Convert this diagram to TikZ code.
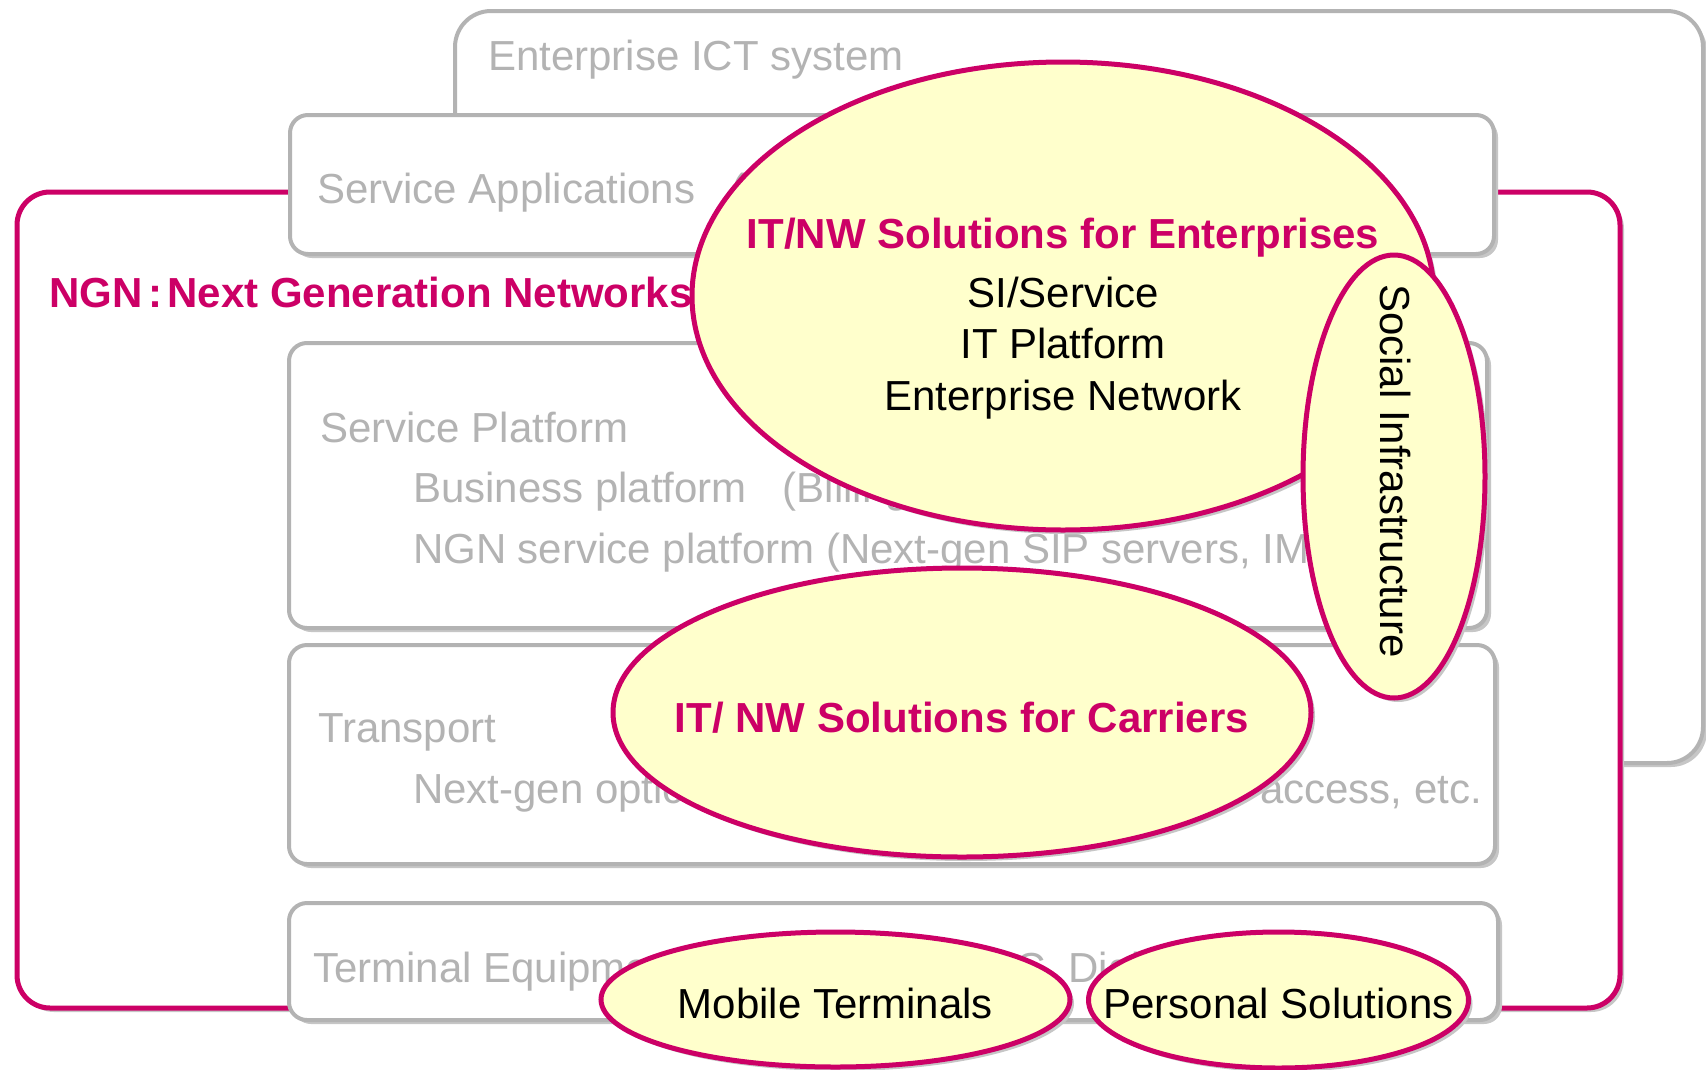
\documentclass[tikz,border=0pt]{standalone}
\usepackage{fontspec}
\setmainfont{Liberation Sans}
\usetikzlibrary{shapes.geometric,shadows}
\definecolor{ngnred}{HTML}{CC0066}
\definecolor{boxgray}{HTML}{B3B3B3}
\definecolor{txtgray}{HTML}{B3B3B3}
\definecolor{ovalfill}{HTML}{FFFFCC}
\definecolor{shadegray}{HTML}{C6C6C6}
\tikzset{
  dropsh/.style={drop shadow={shadow xshift=4pt, shadow yshift=-4pt, fill=shadegray, opacity=1}},
  layerbox/.style={rectangle, draw=boxgray, line width=4pt, fill=white, rounded corners=18pt, dropsh, inner sep=0pt, outer sep=0pt},
  ictbox/.style={layerbox, rounded corners=36pt},
  ngnbox/.style={rectangle, draw=ngnred, line width=5pt, fill=white, rounded corners=33pt, dropsh, inner sep=0pt, outer sep=0pt},
  oval/.style={ellipse, draw=ngnred, line width=5pt, fill=ovalfill, dropsh, inner sep=0pt, outer sep=0pt},
  basefont/.style={font=\fontsize{42}{50}\selectfont, inner sep=0pt, outer sep=0pt},
  graytext/.style={basefont, text=txtgray, anchor=base west},
  redtitle/.style={font=\bfseries\fontsize{42}{50}\selectfont, text=ngnred, inner sep=0pt, anchor=base},
  blacktext/.style={basefont, text=black, anchor=base},
}
\begin{document}
\begin{tikzpicture}[x=1pt, y=-1pt]
\useasboundingbox (0,0) rectangle (1706,1069);
% outer frames
\node[ictbox, minimum width=1248pt, minimum height=752pt] (ict) at (1079,387) {};
\node[ngnbox, minimum width=1603pt, minimum height=816pt] (ngn) at (818.5,600) {};
% layer boxes
\node[layerbox, minimum width=1204pt, minimum height=139pt] (servapp) at (892,184.5) {};
\node[layerbox, minimum width=1198pt, minimum height=285pt] (servplat) at (888,485.5) {};
\node[layerbox, minimum width=1206pt, minimum height=219pt] (transport) at (892,754.5) {};
\node[layerbox, minimum width=1209pt, minimum height=117pt] (terminal) at (893.5,961.5) {};
% gray labels
\node[graytext] (ictlabel) at (488,70) {Enterprise ICT system};
\node[graytext] (salabel) at (317,203) {Service Applications};
\node[graytext] (saparen) at (731,203) {(};
\node[graytext] (splabel) at (320,442) {Service Platform};
\node[graytext] (bplabel) at (413,502) {Business platform\hspace{36pt}(Billing};
\node[graytext] (nsplabel) at (413,563) {NGN service platform (Next-gen SIP servers, IMS};
\node[graytext] (trlabel) at (318,742) {Transport};
\node[graytext] (trleft) at (413,803) {Next-gen optical};
\node[graytext, anchor=base east] (trright) at (1482,803) {access, etc.};
\node[graytext] (telabel) at (313,982) {Terminal Equipment};
\node[graytext] (teright) at (987,982) {PC, Digital};
% NGN title
\node[redtitle, anchor=base west] (ngntitle) at (49,307) {NGN\hspace{6pt}:\hspace{5pt}Next Generation Networks};
% ovals
\node[oval, minimum width=742pt, minimum height=468pt] (entoval) at (1063,296) {};
\node[redtitle] (enttitle) at (1063,248) {IT/NW Solutions for Enterprises};
\node[blacktext] (entl1) at (1063,307) {SI/Service};
\node[blacktext] (entl2) at (1063,358) {IT Platform};
\node[blacktext] (entl3) at (1063,410) {Enterprise Network};
\node[oval, minimum width=182pt, minimum height=443pt] (socoval) at (1394,476.5) {};
\node[blacktext, rotate=-90] (soctext) at (1380,471) {Social Infrastructure};
\node[oval, minimum width=698pt, minimum height=289pt] (caroval) at (962,712.5) {};
\node[redtitle] (cartitle) at (962,732) {IT/ NW Solutions for Carriers};
\node[oval, minimum width=469pt, minimum height=135pt] (mobile) at (835.5,999.5) {};
\node[blacktext] (mobiletext) at (835.5,1018) {Mobile Terminals};
\node[oval, minimum width=380pt, minimum height=136pt] (personal) at (1278.5,1000) {};
\node[blacktext] (personaltext) at (1278.5,1018) {Personal Solutions};
\end{tikzpicture}
\end{document}
